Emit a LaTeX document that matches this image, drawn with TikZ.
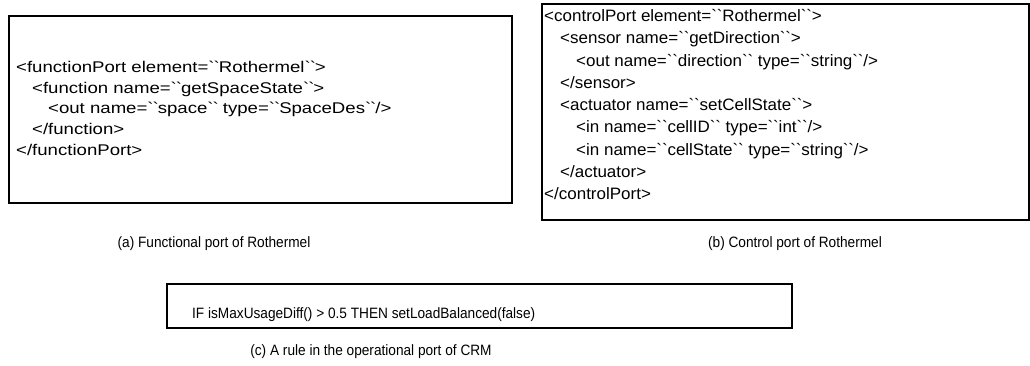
\documentclass[tikz,border=0pt]{standalone}
\usepackage{fontspec}
\usepackage{tikz}

\setmainfont{Liberation Sans}
\newfontfamily\portfonta{Liberation Sans}[FakeStretch=1.2]
\newfontfamily\portfontb{Liberation Sans}[FakeStretch=1.03]
\newfontfamily\rulefont{Liberation Sans}[FakeStretch=0.91]
\newcommand{\bq}{\textasciigrave\textasciigrave}

\begin{document}
\begin{tikzpicture}[x=1pt, y=-1pt,
    portbox/.style={draw, line width=2pt, anchor=north west, inner sep=0pt},
    linea/.style={anchor=base west, inner sep=0pt, font=\portfonta\fontsize{15.5}{18}\selectfont},
    lineb/.style={anchor=base west, inner sep=0pt, font=\portfontb\fontsize{16.5}{19}\selectfont},
    subcap/.style={anchor=base, inner sep=0pt, font=\rulefont\fontsize{15}{18}\selectfont}]
    \useasboundingbox (0,0) rectangle (1030,366);

    % (a) 功能端口
    \node[portbox, minimum width=503pt, minimum height=187pt] (boxA) at (8,15) {};
    \node[linea] (a1) at (16,72.5) {<functionPort element=\bq Rothermel\bq>};
    \node[linea] (a2) at (32,93.25) {<function name=\bq getSpaceState\bq>};
    \node[linea] (a3) at (48,114) {<out name=\bq space\bq{} type=\bq SpaceDes\bq/>};
    \node[linea] (a4) at (32,134.75) {</function>};
    \node[linea] (a5) at (16,155.5) {</functionPort>};
    \node[subcap] (capA) at (214,247) {(a) Functional port of Rothermel};

    % (b) 控制端口
    \node[portbox, minimum width=487pt, minimum height=216pt] (boxB) at (541,3) {};
    \node[lineb] (b1) at (544,21.5) {<controlPort element=\bq Rothermel\bq>};
    \node[lineb] (b2) at (560,43.8) {<sensor name=\bq getDirection\bq>};
    \node[lineb] (b3) at (576,66.1) {<out name=\bq direction\bq{} type=\bq string\bq/>};
    \node[lineb] (b4) at (560,88.4) {</sensor>};
    \node[lineb] (b5) at (560,110.7) {<actuator name=\bq setCellState\bq>};
    \node[lineb] (b6) at (576,133) {<in name=\bq cellID\bq{} type=\bq int\bq/>};
    \node[lineb] (b7) at (576,155.3) {<in name=\bq cellState\bq{} type=\bq string\bq/>};
    \node[lineb] (b8) at (560,177.6) {</actuator>};
    \node[lineb] (b9) at (544,199.9) {</controlPort>};
    \node[subcap] (capB) at (795,247) {(b) Control port of Rothermel};

    % (c) 运行端口中的规则
    \node[portbox, line width=1.6pt, minimum width=625pt, minimum height=44pt] (boxC) at (166,283) {};
    \node[subcap, anchor=base west] (rule) at (192,318) {IF isMaxUsageDiff() > 0.5 THEN setLoadBalanced(false)};
    \node[subcap] (capC) at (371,355) {(c) A rule in the operational port of CRM};
\end{tikzpicture}
\end{document}
